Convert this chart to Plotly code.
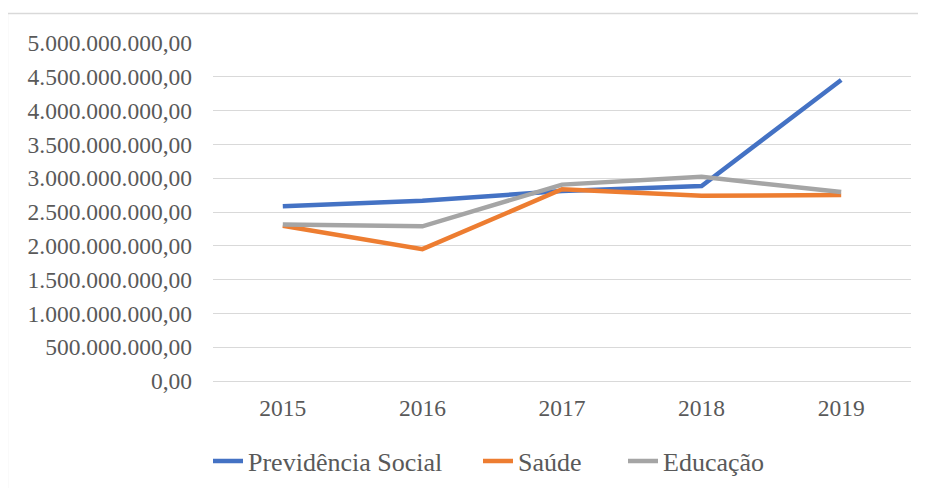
import plotly.graph_objects as go

years = ["2015", "2016", "2017", "2018", "2019"]
previdencia = [2.585e9, 2.667e9, 2.81e9, 2.885e9, 4.453e9]
saude = [2.297e9, 1.950e9, 2.836e9, 2.741e9, 2.750e9]
educacao = [2.315e9, 2.288e9, 2.905e9, 3.020e9, 2.795e9]
tick_vals = [0, 5e8, 1e9, 1.5e9, 2e9, 2.5e9, 3e9, 3.5e9, 4e9, 4.5e9, 5e9]
tick_text = ["0,00", "500.000.000,00", "1.000.000.000,00", "1.500.000.000,00",
             "2.000.000.000,00", "2.500.000.000,00", "3.000.000.000,00",
             "3.500.000.000,00", "4.000.000.000,00", "4.500.000.000,00",
             "5.000.000.000,00"]

# page body has an 8px margin, so figure coordinates are offset by 8
OFF = 8
W, H = 918, 480
L, R, T, B = 213 - OFF, 15, 43 - OFF, 107
pw, ph = W - L - R, H - T - B

font = "Liberation Serif, Times New Roman, serif"
txt = "#595959"

def px_x(p):
    return (p - OFF - L) / pw

def px_y(p):
    return (H - B - (p - OFF)) / ph

series = [("Previdência Social", previdencia, "#4472C4", "legend", 208),
          ("Saúde", saude, "#ED7D31", "legend2", 478),
          ("Educação", educacao, "#A5A5A5", "legend3", 623)]

fig = go.Figure()
legends = {}
for name, vals, col, lg, lx in series:
    fig.add_trace(go.Scatter(x=years, y=vals, mode="lines", name=name,
                             line=dict(color=col, width=4.5), legend=lg,
                             showlegend=True))
    legends[lg] = dict(orientation="h", x=px_x(lx), xanchor="left",
                       y=px_y(461), yanchor="middle", visible=True,
                       bgcolor="rgba(0,0,0,0)",
                       font=dict(family=font, size=26, color=txt))

fig.update_layout(
    width=W, height=H,
    showlegend=True,
    margin=dict(l=L, r=R, t=T, b=B, autoexpand=False),
    paper_bgcolor="white", plot_bgcolor="white",
    font=dict(family=font, size=23, color=txt),
    xaxis=dict(type="category", range=[-0.5, 4.5], showgrid=False,
               showline=False, ticks="", automargin=False,
               tickfont=dict(family=font, size=23.5, color=txt),
               ticklabelstandoff=10),
    yaxis=dict(range=[0, 5e9], tickvals=tick_vals, ticktext=tick_text,
               showgrid=True, gridcolor="#D9D9D9", gridwidth=1.3,
               zeroline=True, zerolinecolor="#D9D9D9", zerolinewidth=1.3,
               showline=False, ticks="", ticklabelstandoff=20,
               automargin=False,
               tickfont=dict(family=font, size=23.5, color=txt)),
    shapes=[dict(type="rect", xref="paper", yref="paper",
                 x0=px_x(7.5), x1=px_x(940), y0=px_y(500), y1=px_y(13.5),
                 line=dict(color="#D9D9D9", width=1.3), layer="below")],
    **legends,
)

fig.write_html("out.html")
